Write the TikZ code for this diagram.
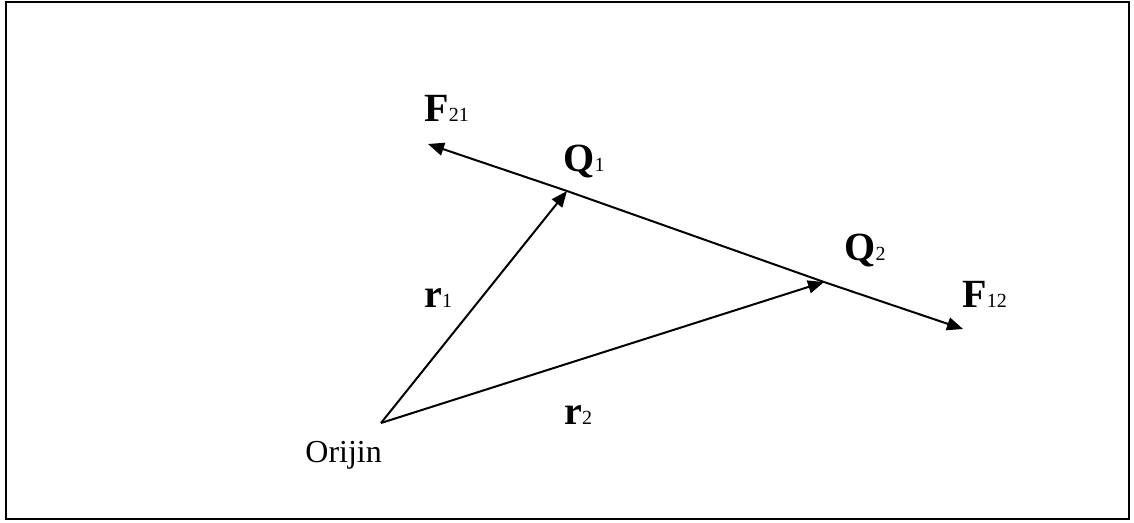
\documentclass[tikz,border=0pt]{standalone}
\usepackage{fontspec}
\setmainfont{Liberation Serif}
\usetikzlibrary{arrows.meta}
\newcommand{\idx}[1]{{\fontsize{10}{12}\selectfont\mdseries #1}}
\tikzset{
 vec/.style={line width=1pt, -{Triangle[length=8pt,width=6.5pt]}},
 plain/.style={line width=1pt},
 lbl/.style={anchor=base west, inner sep=0pt, font=\fontsize{20}{24}\selectfont\bfseries},
}

\begin{document}
\begin{tikzpicture}[x=0.5pt, y=-0.5pt]
\useasboundingbox (0,0) rectangle (1134,523);
\draw[line width=1pt] (6,2) rectangle (1128.5,518.5);
% points
\coordinate (org) at (381,423);
\coordinate (q1) at (567,191);
\coordinate (q2) at (824,282);
\coordinate (f21) at (428,144);
\coordinate (f12) at (963,329);
% vectors
\draw[vec] (org) -- (q1);
\draw[vec] (org) -- (q2);
\draw[plain] (q1) -- (q2);
\draw[vec] (q1) -- (f21);
\draw[vec] (q2) -- (f12);
% labels
\node[lbl] (lf21) at (424,122) {F\idx{21}};
\node[lbl] (lq1) at (563,172) {Q\idx{1}};
\node[lbl] (lq2) at (844,261) {Q\idx{2}};
\node[lbl] (lf12) at (962,308) {F\idx{12}};
\node[lbl] (lr1) at (424,308) {r\idx{1}};
\node[lbl] (lr2) at (564,424) {r\idx{2}};
\node[anchor=base west, inner sep=0pt, font=\fontsize{16}{19}\selectfont] (lorg) at (305,462) {Orijin};
\end{tikzpicture}
\end{document}
